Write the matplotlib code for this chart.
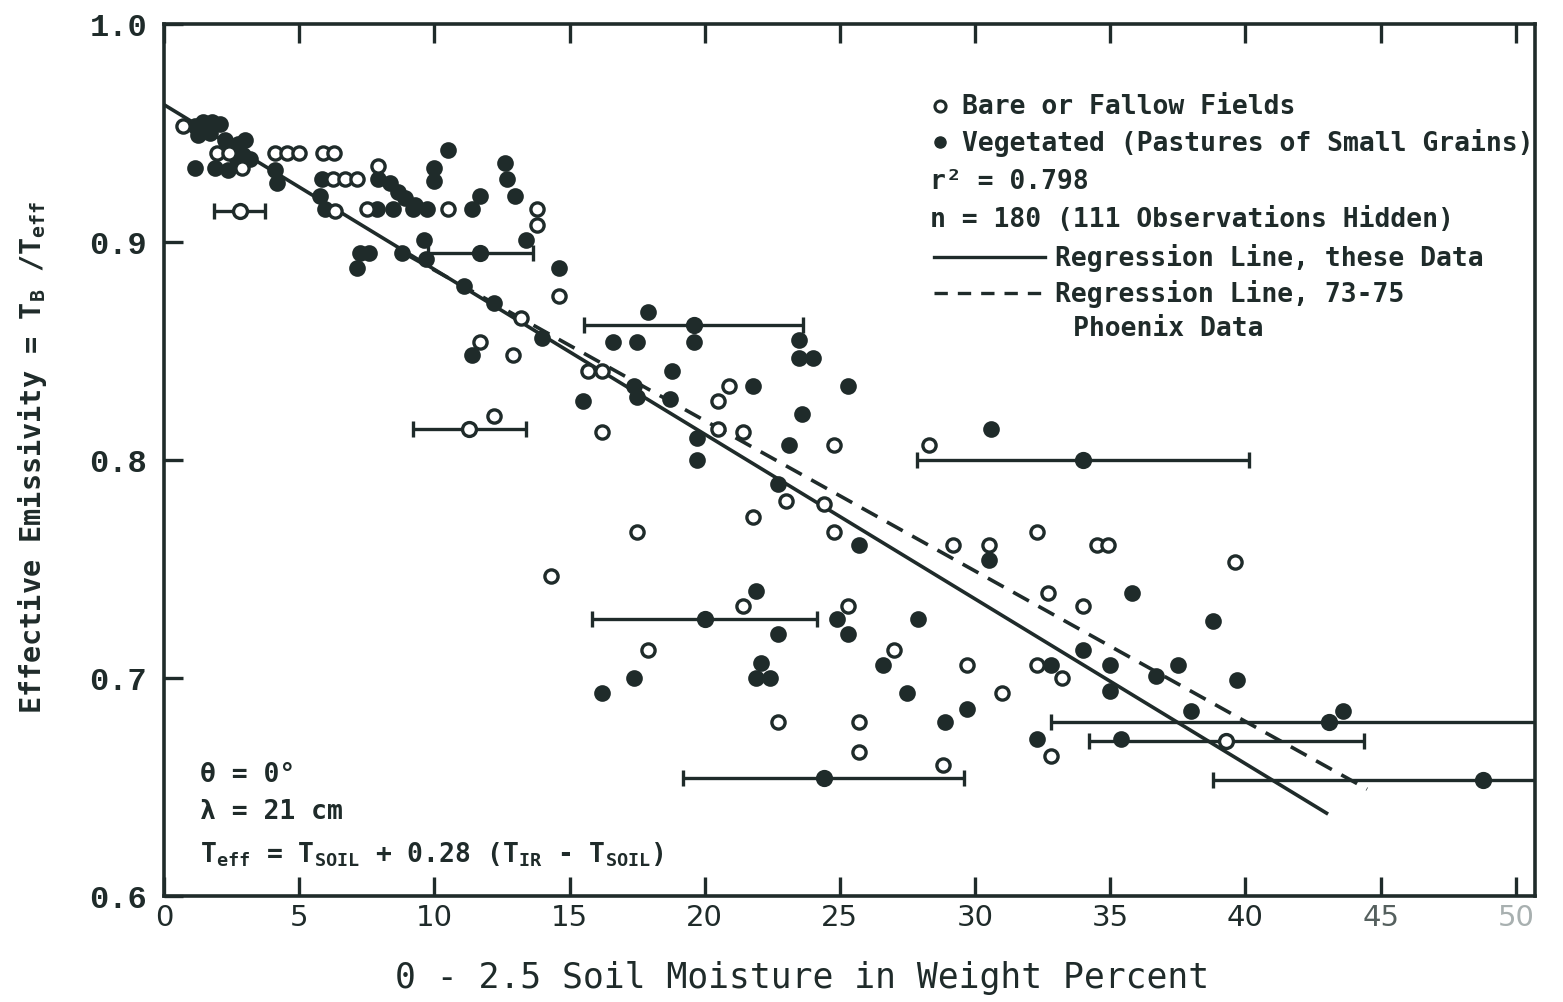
import matplotlib
matplotlib.use("Agg")
import matplotlib.pyplot as plt

INK = "#1f2b2a"

# Bare or fallow fields (open circles)
bare_x = [0.70, 1.96, 2.40, 2.88, 4.10, 4.55, 4.99, 5.88, 6.28, 6.25, 6.69, 7.13,
          7.91, 6.32, 7.50, 10.5, 13.8, 13.8, 14.6, 11.7, 12.9, 12.2, 14.3, 15.7,
          16.2, 16.2, 20.9, 20.5, 20.5, 21.4, 24.8, 28.3, 21.8, 17.5, 23.0, 24.4,
          24.8, 29.2, 21.4, 17.9, 25.3, 27.0, 29.7, 31.0, 22.7, 25.7, 25.7, 28.8,
          32.3, 30.5, 34.5, 34.9, 39.6, 32.7, 34.0, 32.3, 33.2, 32.8, 13.2]
bare_y = [0.953, 0.941, 0.941, 0.934, 0.941, 0.941, 0.941, 0.941, 0.941, 0.929, 0.929, 0.929,
          0.935, 0.914, 0.915, 0.915, 0.915, 0.908, 0.875, 0.854, 0.848, 0.820, 0.747, 0.841,
          0.841, 0.813, 0.834, 0.827, 0.814, 0.813, 0.807, 0.807, 0.774, 0.767, 0.781, 0.780,
          0.767, 0.761, 0.733, 0.713, 0.733, 0.713, 0.706, 0.693, 0.680, 0.680, 0.666, 0.660,
          0.767, 0.761, 0.761, 0.761, 0.753, 0.739, 0.733, 0.706, 0.700, 0.664, 0.865]

# Vegetated (pastures or small grains) (filled circles)
veg_x = [1.15, 1.44, 1.77, 2.07, 1.26, 1.70, 2.26, 2.74, 3.00, 2.92, 3.18, 1.89,
         2.37, 2.70, 1.15, 4.10, 4.18, 5.84, 5.77, 5.95, 7.91, 8.35, 8.65, 8.91,
         9.28, 7.87, 8.47, 9.21, 9.72, 10.5, 10.0, 10.0, 11.4, 11.7, 12.6, 12.7,
         12.98, 13.4, 14.6, 7.25, 7.13, 7.60, 8.80, 9.60, 9.70, 11.4, 11.1, 12.2,
         14.0, 17.9, 16.6, 17.5, 19.6, 23.5, 23.5, 24.0, 18.8, 15.5, 17.4, 17.5,
         18.7, 21.8, 25.3, 23.6, 19.7, 19.7, 23.1, 22.7, 25.7, 21.9, 22.7, 17.4,
         16.2, 22.1, 21.9, 22.4, 24.9, 25.3, 27.9, 26.6, 27.5, 29.7, 28.9, 30.6,
         30.5, 35.8, 38.8, 34.0, 35.0, 32.8, 36.7, 37.5, 39.7, 35.0, 32.3, 35.4,
         38.0, 43.6]
veg_y = [0.953, 0.955, 0.955, 0.954, 0.949, 0.950, 0.947, 0.945, 0.947, 0.940, 0.938, 0.934,
         0.933, 0.938, 0.934, 0.933, 0.927, 0.929, 0.921, 0.915, 0.929, 0.927, 0.923, 0.920,
         0.917, 0.915, 0.915, 0.915, 0.915, 0.942, 0.934, 0.928, 0.915, 0.921, 0.936, 0.929,
         0.921, 0.901, 0.888, 0.895, 0.888, 0.895, 0.895, 0.901, 0.892, 0.848, 0.880, 0.872,
         0.856, 0.868, 0.854, 0.854, 0.854, 0.855, 0.847, 0.847, 0.841, 0.827, 0.834, 0.829,
         0.828, 0.834, 0.834, 0.821, 0.810, 0.800, 0.807, 0.789, 0.761, 0.740, 0.720, 0.700,
         0.693, 0.707, 0.700, 0.700, 0.727, 0.720, 0.727, 0.706, 0.693, 0.686, 0.680, 0.814,
         0.754, 0.739, 0.726, 0.713, 0.706, 0.706, 0.701, 0.706, 0.699, 0.694, 0.672, 0.672,
         0.685, 0.685]

# horizontal error bars: centre, half width, open centre?
bar_x = [2.8, 11.7, 11.3, 19.6, 34.0, 20.0, 24.4, 43.1, 39.3, 48.8]
bar_y = [0.914, 0.895, 0.814, 0.862, 0.800, 0.727, 0.654, 0.680, 0.671, 0.653]
bar_half = [0.94, 1.95, 2.1, 4.05, 6.15, 4.15, 5.2, 10.3, 5.1, 10.0]
bar_open = [True, False, True, False, False, False, False, False, True, False]

# regression lines (end points)
fit_x = [0.0, 43.0]
fit_y = [0.963, 0.638]
phx_x = [9.0, 44.5]
phx_y = [0.894, 0.649]

X_TICKS = [0, 5, 10, 15, 20, 25, 30, 35, 40, 45, 50]
Y_TICKS = [0.6, 0.7, 0.8, 0.9, 1.0]

plt.rcParams.update({
    "mathtext.fontset": "custom",
    "mathtext.rm": "DejaVu Sans Mono:bold",
    "mathtext.it": "DejaVu Sans Mono:bold",
    "mathtext.bf": "DejaVu Sans Mono:bold",
})
MONO = "DejaVu Sans Mono"

fig = plt.figure(figsize=(15.63, 10.03), dpi=100)
ax = fig.add_axes([0.1049, 0.1057, 0.877, 0.8694])
ax.set_xlim(0, 50.7)
ax.set_ylim(0.6, 1.0)

ax.plot(fit_x, fit_y, color=INK, lw=2.6, zorder=2)
ax.plot(phx_x, phx_y, color=INK, lw=2.6, ls=(0, (5, 3)), zorder=2)

ax.errorbar(bar_x, bar_y, xerr=bar_half, fmt="none", ecolor=INK,
            elinewidth=2.4, capsize=6, capthick=2.4, zorder=2)
for bx, by, op in zip(bar_x, bar_y, bar_open):
    ax.plot([bx], [by], "o", ms=10, mec=INK, mew=2.4,
            mfc="white" if op else INK, zorder=4)

ax.plot(veg_x, veg_y, "o", ms=10.5, mfc=INK, mec=INK, mew=1.5, ls="none", zorder=3)
ax.plot(bare_x, bare_y, "o", ms=9.5, mfc="white", mec=INK, mew=2.4, ls="none", zorder=4)

for s in ax.spines.values():
    s.set_linewidth(2.6)
    s.set_color(INK)
ax.set_xticks(X_TICKS)
ax.set_yticks(Y_TICKS)
ax.set_yticklabels([f"{v:.1f}" for v in Y_TICKS], family="Liberation Mono",
                   weight="bold", fontsize=23, color=INK)
ax.set_xticklabels([str(v) for v in X_TICKS], family="DejaVu Sans",
                   fontsize=21, color=INK)
ax.get_xticklabels()[-1].set_color("#a8b0b0")
ax.get_xticklabels()[-2].set_color("#55605e")
ax.tick_params(direction="in", length=14, width=2.4, color=INK, top=True)
ax.tick_params(axis="x", pad=5)
ax.tick_params(axis="y", pad=12)

# key / annotation block
tkw = dict(transform=ax.transAxes, family=MONO, weight="bold", fontsize=19,
           color=INK, va="center", ha="left", clip_on=True)
ax.plot([0.566], [0.906], "o", ms=8, mfc="white", mec=INK, mew=2.2, transform=ax.transAxes)
ax.text(0.582, 0.906, "Bare or Fallow Fields", **tkw)
ax.plot([0.566], [0.865], "o", ms=8, mfc=INK, mec=INK, transform=ax.transAxes)
ax.text(0.582, 0.865, "Vegetated (Pastures of Small Grains)", **tkw)
ax.text(0.559, 0.820, "r² = 0.798", **tkw)
ax.text(0.559, 0.776, "n = 180 (111 Observations Hidden)", **tkw)
ax.plot([0.562, 0.643], [0.733, 0.733], color=INK, lw=2.4, transform=ax.transAxes)
ax.text(0.650, 0.733, "Regression Line, these Data", **tkw)
ax.plot([0.562, 0.643], [0.692, 0.692], color=INK, lw=2.4, ls=(0, (4, 3)),
        transform=ax.transAxes)
ax.text(0.650, 0.692, "Regression Line, 73-75", **tkw)
ax.text(0.663, 0.651, "Phoenix Data", **tkw)

ax.text(0.026, 0.140, "θ = 0°", **tkw)
ax.text(0.026, 0.0975, "λ = 21 cm", **tkw)
ax.text(0.026, 0.048, r"T$_{eff}$ = T$_{SOIL}$ + 0.28 (T$_{IR}$ - T$_{SOIL}$)", **tkw)

fig.text(0.513, 0.025, "0 - 2.5 Soil Moisture in Weight Percent", family=MONO,
         fontsize=25, color=INK, ha="center", va="center")
fig.text(0.021, 0.544, r"Effective Emissivity = T$_{B}$ /T$_{eff}$", family=MONO,
         weight="bold", fontsize=20.5, color=INK, rotation=90, ha="center", va="center")

fig.savefig("out.png", dpi=100)
